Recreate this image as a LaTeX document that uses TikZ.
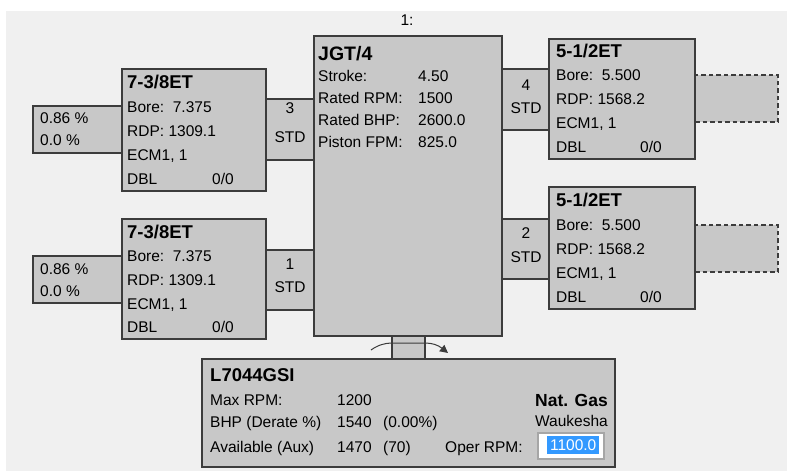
\documentclass[tikz,border=0pt]{standalone}
\usepackage{fontspec}
\setmainfont{Liberation Sans}
\usetikzlibrary{arrows.meta}
\definecolor{bgc}{HTML}{F0F0F0}
\definecolor{boxfill}{HTML}{C8C8C8}
\definecolor{boxline}{HTML}{3C3C3C}
\definecolor{selc}{HTML}{3399FF}
\begin{document}
\begin{tikzpicture}[x=1pt,y=-1pt,
  box/.style={draw=boxline, fill=boxfill, line width=1.3pt, inner sep=0pt, outer sep=0pt, anchor=north west},
  dbox/.style={box, dash pattern=on 4.5pt off 3pt},
  txt/.style={inner sep=0pt, anchor=west, text height=11pt, text depth=0pt, font=\fontsize{15.5}{18}\selectfont},
  ctxt/.style={txt, anchor=center},
  ttl/.style={txt, text height=13pt, font=\fontsize{18.5}{20}\selectfont\bfseries},
  bigttl/.style={txt, text height=14pt, font=\fontsize{19.5}{22}\selectfont\bfseries}]
\useasboundingbox (0,0) rectangle (787,472);
\fill[white] (0,0) rectangle (787,472);
\fill[bgc] (6,11) rectangle (787,471);

\node[ctxt] (lbl) at (407,20) {1:};

% pressure boxes
\node[box, minimum width=89pt, minimum height=47pt] (pTL) at (33,106) {};
\node[box, minimum width=89pt, minimum height=47pt] (pBL) at (33,256) {};
\node[txt] (pTLa) at (40,118) {0.86 \%};
\node[txt] (pTLb) at (40,140) {0.0 \%};
\node[txt] (pBLa) at (40,269) {0.86 \%};
\node[txt] (pBLb) at (40,291) {0.0 \%};

% dashed boxes
\node[dbox, minimum width=83pt, minimum height=47pt] (dTR) at (695,75) {};
\node[dbox, minimum width=83pt, minimum height=47pt] (dBR) at (695,225) {};

% connector boxes
\node[box, minimum width=48pt, minimum height=61pt] (k3) at (266,99) {};
\node[box, minimum width=48pt, minimum height=60pt] (k1) at (266,250) {};
\node[box, minimum width=47pt, minimum height=61pt] (k4) at (502,69) {};
\node[box, minimum width=47pt, minimum height=60pt] (k2) at (502,219) {};
\node[ctxt] (k3a) at (290,108) {3};
\node[ctxt] (k3b) at (290,137) {STD};
\node[ctxt] (k1a) at (290,264) {1};
\node[ctxt] (k1b) at (290,287) {STD};
\node[ctxt] (k4a) at (526,85) {4};
\node[ctxt] (k4b) at (526,108) {STD};
\node[ctxt] (k2a) at (526,233) {2};
\node[ctxt] (k2b) at (526,257) {STD};

% shaft
\node[box, minimum width=33pt, minimum height=23pt] (shaft) at (392,336) {};

% frame
\node[box, minimum width=188pt, minimum height=300pt] (jgt) at (314,36) {};
\node[bigttl] (jgtT) at (318,53) {JGT/4};
\node[txt] (jl1) at (318,76) {Stroke:};
\node[txt] (jl2) at (318,98) {Rated RPM:};
\node[txt] (jl3) at (318,120) {Rated BHP:};
\node[txt] (jl4) at (318,142) {Piston FPM:};
\node[txt] (jv1) at (418,76) {4.50};
\node[txt] (jv2) at (418,98) {1500};
\node[txt] (jv3) at (418,120) {2600.0};
\node[txt] (jv4) at (418,142) {825.0};

% cylinders
\node[box, minimum width=144pt, minimum height=122pt] (cTL) at (122,69) {};
\node[ttl] (cTLt) at (127,82) {7-3/8ET};
\node[txt] (cTL1) at (127,107) {Bore:\ \ 7.375};
\node[txt] (cTL2) at (127,131) {RDP: 1309.1};
\node[txt] (cTL3) at (127,155) {ECM1, 1};
\node[txt] (cTL4) at (127,179) {DBL};
\node[txt] (cTL5) at (212,179) {0/0};

\node[box, minimum width=144pt, minimum height=120pt] (cBL) at (122,219) {};
\node[ttl] (cBLt) at (127,232) {7-3/8ET};
\node[txt] (cBL1) at (127,256) {Bore:\ \ 7.375};
\node[txt] (cBL2) at (127,280) {RDP: 1309.1};
\node[txt] (cBL3) at (127,304) {ECM1, 1};
\node[txt] (cBL4) at (127,327) {DBL};
\node[txt] (cBL5) at (212,327) {0/0};

\node[box, minimum width=146pt, minimum height=120pt] (cTR) at (549,39) {};
\node[ttl] (cTRt) at (556,51) {5-1/2ET};
\node[txt] (cTR1) at (556,75) {Bore:\ \ 5.500};
\node[txt] (cTR2) at (556,99) {RDP: 1568.2};
\node[txt] (cTR3) at (556,123) {ECM1, 1};
\node[txt] (cTR4) at (556,147) {DBL};
\node[txt] (cTR5) at (640,147) {0/0};

\node[box, minimum width=146pt, minimum height=122pt] (cBR) at (549,187) {};
\node[ttl] (cBRt) at (556,200) {5-1/2ET};
\node[txt] (cBR1) at (556,225) {Bore:\ \ 5.500};
\node[txt] (cBR2) at (556,249) {RDP: 1568.2};
\node[txt] (cBR3) at (556,273) {ECM1, 1};
\node[txt] (cBR4) at (556,297) {DBL};
\node[txt] (cBR5) at (640,297) {0/0};

% rotation arrow
\coordinate (a1) at (371,350);
\coordinate (a2) at (448,353);
\draw[boxline, line width=1pt, -{Triangle[length=8pt,width=8pt]}]
  (a1) .. controls (378,345) and (385,343) .. (shaft.north west |- 0,343)
  -- (shaft.north east |- 0,343) .. controls (432,343) and (438,345) .. (a2);

% engine
\node[box, minimum width=413pt, minimum height=108pt] (eng) at (202,359) {};
\node[ttl] (engT) at (210,375) {L7044GSI};
\node[txt] (e1) at (210,400) {Max RPM:};
\node[txt] (e2) at (210,422) {BHP (Derate \%)};
\node[txt] (e3) at (210,447) {Available (Aux)};
\node[txt] (e1v) at (337,400) {1200};
\node[txt] (e2v) at (337,422) {1540};
\node[txt] (e3v) at (337,447) {1470};
\node[txt] (e2w) at (383,422) {(0.00\%)};
\node[txt] (e3w) at (383,447) {(70)};
\node[txt] (e4) at (445,447) {Oper RPM:};
\node[ttl, anchor=east, font=\fontsize{17.5}{20}\selectfont\bfseries] (fuel) at (608,400) {Nat. Gas};
\node[txt, anchor=east] (make) at (608,421) {Waukesha};
\node[draw=gray!70, fill=white, line width=1.5pt, inner sep=0pt, anchor=north west, minimum width=66pt, minimum height=26pt] (fld) at (537,432) {};
\node[fill=selc, inner sep=0pt, anchor=north west, minimum width=52pt, minimum height=18pt] (hl) at (547,436) {};
\node[ctxt, text=white] (fv) at (hl.center) {1100.0};
\end{tikzpicture}
\end{document}
